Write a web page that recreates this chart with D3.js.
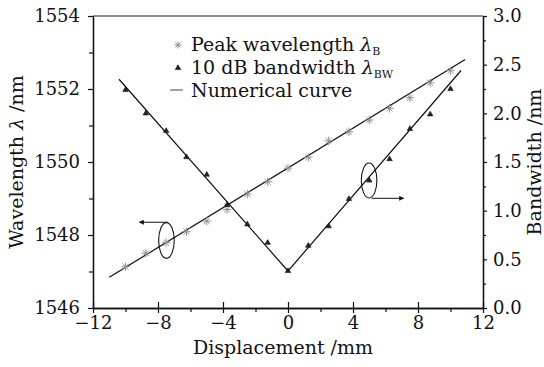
<!DOCTYPE html>
<html>
<head>
<meta charset="utf-8">
<script src="https://cdn.jsdelivr.net/npm/d3@7"></script>
<style>
body { margin: 0; background: #fff; }
svg text { font-family: "DejaVu Serif", serif; fill: #111; }
</style>
</head>
<body>
<script>
// measured points (displacement in mm)
var displacement = [-10, -8.75, -7.5, -6.25, -5, -3.75, -2.5, -1.25, 0, 1.25, 2.5, 3.75, 5, 6.25, 7.5, 8.75, 10];
var peakWavelength = [1547.13, 1547.50, 1547.79, 1548.09, 1548.38, 1548.70, 1549.12, 1549.46, 1549.83,
                      1550.13, 1550.58, 1550.83, 1551.15, 1551.47, 1551.76, 1552.17, 1552.50];
var bandwidth = [2.24, 2.00, 1.82, 1.55, 1.37, 1.06, 0.86, 0.67, 0.38, 0.64, 0.84, 1.12, 1.31, 1.53, 1.84, 1.99, 2.25];

// numerical curves
var lambdaCurveX = [-11, 10.9];
var lambdaCurveY = [1546.84, 1552.81];
var bwCurveX = [-10.4, 0, 10.65];
var bwCurveY = [2.35, 0.38, 2.44];

var xTicks = [-12, -8, -4, 0, 4, 8, 12];
var xMinor = [-10, -6, -2, 2, 6, 10];
var leftTicks = [1546, 1548, 1550, 1552, 1554];
var leftMinor = [1547, 1549, 1551, 1553];
var rightTicks = [0, 0.5, 1, 1.5, 2, 2.5, 3];
var rightMinor = [0.25, 0.75, 1.25, 1.75, 2.25, 2.75];

var width = 544, height = 367;
var margin = {top: 16, right: 61, bottom: 59, left: 93};

var svg = d3.select('body').append('svg')
  .attr('width', width)
  .attr('height', height);

var x = d3.scaleLinear().domain([-12, 12]).range([margin.left, width - margin.right]);
var yL = d3.scaleLinear().domain([1546, 1554]).range([height - margin.bottom, margin.top]);
var yR = d3.scaleLinear().domain([0, 3]).range([height - margin.bottom, margin.top]);

var fmtX = function(d) { return d < 0 ? '\u2212' + Math.abs(d) : d; };

// frame top
svg.append('line')
  .attr('x1', x(-12)).attr('x2', x(12))
  .attr('y1', yL(1554)).attr('y2', yL(1554))
  .attr('stroke', '#222').attr('stroke-width', 1.2);

var styleAxis = function(g) {
  g.select('.domain').attr('stroke', '#111').attr('stroke-width', 1.3);
  g.selectAll('.tick line').attr('stroke', '#111').attr('stroke-width', 1.2);
  g.selectAll('text').attr('font-size', 18).attr('font-family', '"DejaVu Serif", serif').attr('fill', '#111');
};

// bottom
var gx = svg.append('g').attr('transform', 'translate(0,' + yL(1546) + ')')
  .call(d3.axisBottom(x).tickValues(xTicks).tickSize(5).tickPadding(3).tickFormat(fmtX).tickSizeOuter(0));
styleAxis(gx);
gx.selectAll('.tick line').attr('y1', -6);
var gxm = svg.append('g').attr('transform', 'translate(0,' + yL(1546) + ')')
  .call(d3.axisBottom(x).tickValues(xMinor).tickSize(4).tickFormat('').tickSizeOuter(0));
styleAxis(gxm);

// left
var gl = svg.append('g').attr('transform', 'translate(' + x(-12) + ',0)')
  .call(d3.axisLeft(yL).tickValues(leftTicks).tickSize(5).tickPadding(8)
    .tickFormat(d3.format('d')).tickSizeOuter(0));
styleAxis(gl);
var glm = svg.append('g').attr('transform', 'translate(' + x(-12) + ',0)')
  .call(d3.axisLeft(yL).tickValues(leftMinor).tickSize(4).tickFormat('').tickSizeOuter(0));
styleAxis(glm);

// right
var gr = svg.append('g').attr('transform', 'translate(' + x(12) + ',0)')
  .call(d3.axisRight(yR).tickValues(rightTicks).tickSize(4).tickPadding(6)
    .tickFormat(d3.format('.1f')).tickSizeOuter(0));
styleAxis(gr);
var grm = svg.append('g').attr('transform', 'translate(' + x(12) + ',0)')
  .call(d3.axisRight(yR).tickValues(rightMinor).tickSize(3).tickFormat('').tickSizeOuter(0));
styleAxis(grm);

// axis titles
svg.append('text')
  .attr('x', 283).attr('y', 354)
  .attr('text-anchor', 'middle').attr('font-size', 19)
  .text('Displacement /mm');

var lt = svg.append('text')
  .attr('transform', 'translate(23,162) rotate(-90)')
  .attr('text-anchor', 'middle').attr('font-size', 19);
lt.append('tspan').text('Wavelength ');
lt.append('tspan').attr('font-style', 'italic').text('\u03bb');
lt.append('tspan').text(' /nm');

svg.append('text')
  .attr('transform', 'translate(541,162) rotate(-90)')
  .attr('text-anchor', 'middle').attr('font-size', 19)
  .text('Bandwidth /nm');

// curves
var lamLine = d3.line()
  .x(function(d, i) { return x(lambdaCurveX[i]); })
  .y(function(d, i) { return yL(lambdaCurveY[i]); });
svg.append('path')
  .attr('d', lamLine(lambdaCurveX))
  .attr('fill', 'none').attr('stroke', '#111').attr('stroke-width', 1.2);

var bwLine = d3.line()
  .x(function(d, i) { return x(bwCurveX[i]); })
  .y(function(d, i) { return yR(bwCurveY[i]); });
svg.append('path')
  .attr('d', bwLine(bwCurveX))
  .attr('fill', 'none').attr('stroke', '#111').attr('stroke-width', 1.2);

// markers
var starPath = function(r) {
  var p = '';
  for (var k = 0; k < 4; k++) {
    var a = k * Math.PI / 4;
    var dx = r * Math.cos(a), dy = r * Math.sin(a);
    p += 'M' + (-dx) + ',' + (-dy) + 'L' + dx + ',' + dy;
  }
  return p;
};
var tri = d3.symbol().type(d3.symbolTriangle).size(13);

svg.selectAll('.star')
  .data(displacement)
  .enter()
  .append('path')
  .classed('star', true)
  .attr('transform', function(d, i) { return 'translate(' + x(d) + ',' + yL(peakWavelength[i]) + ')'; })
  .attr('d', starPath(4.2))
  .attr('stroke', '#929292').attr('stroke-width', 1);

svg.selectAll('.tri')
  .data(displacement)
  .enter()
  .append('path')
  .classed('tri', true)
  .attr('transform', function(d, i) { return 'translate(' + x(d) + ',' + yR(bandwidth[i]) + ')'; })
  .attr('d', tri)
  .attr('fill', '#222').attr('stroke', '#111').attr('stroke-width', 0.6);

// annotation ellipses and arrows
svg.append('defs').append('marker')
  .attr('id', 'ah').attr('viewBox', '0 0 10 10')
  .attr('refX', 9).attr('refY', 5)
  .attr('markerWidth', 7).attr('markerHeight', 5)
  .attr('markerUnits', 'userSpaceOnUse')
  .attr('orient', 'auto')
  .append('path').attr('d', 'M0,0L10,5L0,10z').attr('fill', '#111');

svg.append('ellipse')
  .attr('cx', x(-7.48)).attr('cy', yL(1547.85))
  .attr('rx', x(-7.0) - x(-7.48)).attr('ry', yL(1547.36) - yL(1547.85))
  .attr('fill', 'none').attr('stroke', '#111').attr('stroke-width', 1.1);
svg.append('line')
  .attr('x1', x(-7.4)).attr('y1', yL(1548.35))
  .attr('x2', x(-9.15)).attr('y2', yL(1548.35))
  .attr('stroke', '#111').attr('stroke-width', 1)
  .attr('marker-end', 'url(#ah)');

svg.append('ellipse')
  .attr('cx', x(4.99)).attr('cy', yR(1.31))
  .attr('rx', x(5.47) - x(4.99)).attr('ry', yR(1.13) - yR(1.31))
  .attr('fill', 'none').attr('stroke', '#111').attr('stroke-width', 1.1);
svg.append('line')
  .attr('x1', x(5.15)).attr('y1', yR(1.127))
  .attr('x2', x(7.12)).attr('y2', yR(1.127))
  .attr('stroke', '#111').attr('stroke-width', 1)
  .attr('marker-end', 'url(#ah)');

// legend
var lg = svg.append('g');
lg.append('path')
  .attr('transform', 'translate(178,45)')
  .attr('d', starPath(3.6))
  .attr('stroke', '#929292').attr('stroke-width', 1);
lg.append('path')
  .attr('transform', 'translate(178,68)')
  .attr('d', tri)
  .attr('fill', '#222').attr('stroke', '#111').attr('stroke-width', 0.6);
lg.append('line')
  .attr('x1', 170).attr('x2', 183).attr('y1', 90).attr('y2', 90)
  .attr('stroke', '#444').attr('stroke-width', 1);

var t1 = lg.append('text').attr('x', 191).attr('y', 51).attr('font-size', 19);
t1.append('tspan').text('Peak wavelength ');
t1.append('tspan').attr('font-style', 'italic').text('\u03bb');
t1.append('tspan').attr('font-size', 11).attr('dy', 4).text('B');

var t2 = lg.append('text').attr('x', 191).attr('y', 74).attr('font-size', 19);
t2.append('tspan').text('10 dB bandwidth ');
t2.append('tspan').attr('font-style', 'italic').text('\u03bb');
t2.append('tspan').attr('font-size', 11).attr('dy', 4).text('BW');

lg.append('text').attr('x', 191).attr('y', 97).attr('font-size', 19).text('Numerical curve');
</script>
</body>
</html>
